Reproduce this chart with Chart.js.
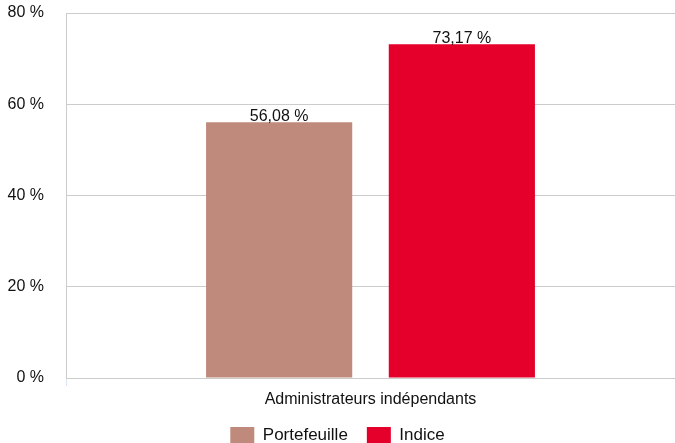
<!DOCTYPE html>
<html>
<head>
<meta charset="utf-8">
<script src="https://cdn.jsdelivr.net/npm/chart.js@4/dist/chart.umd.min.js"></script>
<style>
html,body{margin:0;padding:0;background:#fff;}
#wrap{width:675px;height:443px;}
</style>
</head>
<body>
<div id="wrap"><canvas id="c" width="675" height="443"></canvas></div>
<script>
const categories = ["Administrateurs indépendants"];
const seriesNames = ["Portefeuille", "Indice"];
const portefeuille = [56.08];
const indice = [73.17];
const yTicks = [0, 20, 40, 60, 80];

const fmt = v => v.toFixed(2).replace('.', ',') + ' %';
const FONT = '"Liberation Sans", Arial, sans-serif';

const valueLabels = {
  id: 'valueLabels',
  afterDatasetsDraw(chart) {
    const ctx = chart.ctx;
    ctx.save();
    ctx.font = '16px ' + FONT;
    ctx.fillStyle = '#111111';
    ctx.textAlign = 'center';
    ctx.textBaseline = 'alphabetic';
    chart.data.datasets.forEach((ds, i) => {
      chart.getDatasetMeta(i).data.forEach((bar, j) => {
        ctx.fillText(fmt(ds.data[j]), bar.x, bar.y - 1);
      });
    });
    ctx.restore();
  }
};

new Chart(document.getElementById('c'), {
  type: 'bar',
  data: {
    labels: categories,
    datasets: [
      { label: seriesNames[0], data: portefeuille, backgroundColor: '#bf8a7b' },
      { label: seriesNames[1], data: indice, backgroundColor: '#e4002b' }
    ]
  },
  options: {
    responsive: false,
    animation: false,
    devicePixelRatio: 1,
    categoryPercentage: 0.6,
    barPercentage: 0.8,
    layout: { padding: { top: 13, right: 0, left: 0, bottom: -11 } },
    plugins: {
      tooltip: { enabled: false },
      legend: {
        position: 'bottom',
        labels: {
          boxWidth: 24,
          boxHeight: 17,
          padding: 19,
          color: '#111111',
          font: { family: FONT, size: 17 }
        }
      }
    },
    scales: {
      x: {
        afterFit: axis => { axis.height = 30; },
        grid: { display: true, drawOnChartArea: false, color: '#cccccc', tickColor: '#dce3f3', tickLength: 8 },
        border: { display: false },
        ticks: { color: '#111111', padding: 4, font: { family: FONT, size: 16 } }
      },
      y: {
        min: 0, max: 80,
        afterFit: axis => { axis.width = 66; },
        afterBuildTicks: axis => { axis.ticks = yTicks.map(v => ({ value: v })); },
        grid: { color: '#cccccc', drawTicks: true, tickLength: 22, tickColor: 'rgba(0,0,0,0)', lineWidth: 1 },
        border: { display: true, color: '#cccccc' },
        ticks: {
          color: '#111111', padding: 0,
          font: { family: FONT, size: 16 },
          callback: v => v + ' %'
        }
      }
    }
  },
  plugins: [valueLabels]
});
</script>
</body>
</html>
